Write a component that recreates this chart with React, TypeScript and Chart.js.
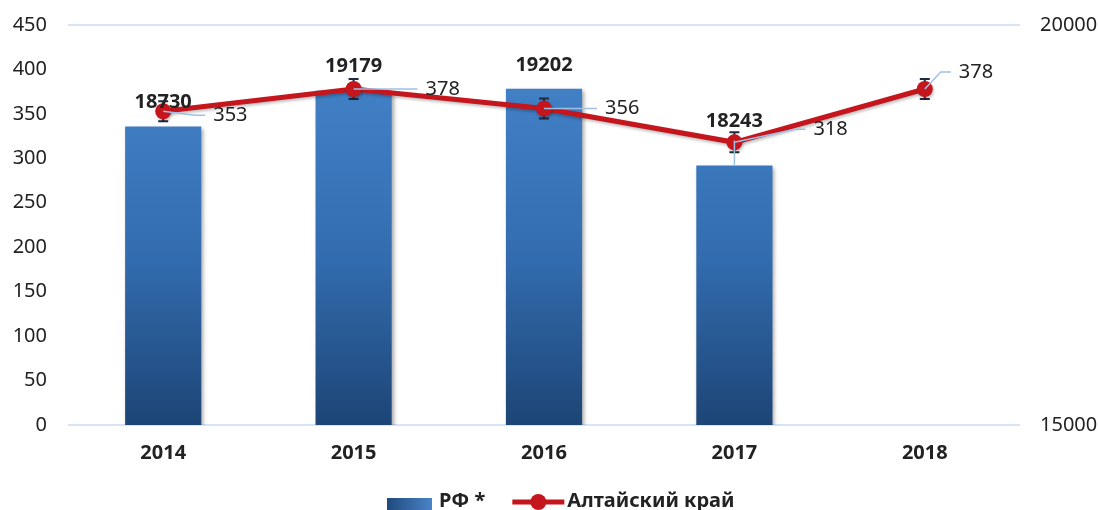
import React, { useEffect, useRef } from 'react';
import { Chart, registerables } from 'chart.js';

Chart.register(...registerables);

const categories = ['2014', '2015', '2016', '2017', '2018'];
const rfValues: (number | null)[] = [18730, 19179, 19202, 18243, null];
const altaiValues = [353, 378, 356, 318, 378];
const seriesNames = ['РФ *', 'Алтайский край'];
const leftAxis = { min: 0, max: 450, step: 50 };
const rightAxis = { min: 15000, max: 20000, step: 5000 };

// label placement (style config)
const lineLabelOffsets: [number, number][] = [[50, 4], [72, 0], [61, 0], [79, -13], [34, -17]];
const barLabelLift = [24, 24, 24, 44, 0];

const FONT = '"Noto Sans", "DejaVu Sans", sans-serif';
const RED = '#c4161c';
const LEADER = '#9ec0e6';
const TEXT = '#222222';

const decorPlugin = {
  id: 'decor',
  beforeDatasetDraw(chart: any, args: any) {
    const ctx = chart.ctx;
    ctx.save();
    if (args.meta.type === 'line') {
      ctx.strokeStyle = '#1d2b40';
      ctx.lineWidth = 2;
      args.meta.data.forEach((p: any) => {
        ctx.beginPath();
        ctx.moveTo(p.x, p.y - 10);
        ctx.lineTo(p.x, p.y + 10);
        ctx.moveTo(p.x - 5, p.y - 10);
        ctx.lineTo(p.x + 5, p.y - 10);
        ctx.moveTo(p.x - 5, p.y + 10);
        ctx.lineTo(p.x + 5, p.y + 10);
        ctx.stroke();
      });
      ctx.shadowColor = 'rgba(0,0,0,0.25)';
      ctx.shadowBlur = 3;
      ctx.shadowOffsetX = 1;
      ctx.shadowOffsetY = 2;
    } else {
      ctx.shadowColor = 'rgba(0,0,0,0.35)';
      ctx.shadowBlur = 4;
      ctx.shadowOffsetX = 2;
      ctx.shadowOffsetY = 2;
    }
  },
  afterDatasetDraw(chart: any) {
    chart.ctx.restore();
  },
  afterDatasetsDraw(chart: any) {
    const ctx = chart.ctx;
    const barMeta = chart.getDatasetMeta(1);
    const lineMeta = chart.getDatasetMeta(0);
    ctx.save();
    ctx.font = `bold 20px ${FONT}`;
    ctx.fillStyle = TEXT;
    ctx.textAlign = 'center';
    ctx.textBaseline = 'middle';
    barMeta.data.forEach((b: any, i: number) => {
      const v = rfValues[i];
      if (v == null) return;
      const lift = barLabelLift[i];
      if (lift > 30) {
        ctx.strokeStyle = LEADER;
        ctx.lineWidth = 1.5;
        ctx.beginPath();
        ctx.moveTo(b.x, b.y);
        ctx.lineTo(b.x, b.y - 25);
        ctx.stroke();
      }
      ctx.fillText(String(v), b.x, b.y - lift);
    });
    ctx.font = `20px ${FONT}`;
    ctx.textAlign = 'left';
    lineMeta.data.forEach((p: any, i: number) => {
      const [dx, dy] = lineLabelOffsets[i];
      const lx = p.x + dx;
      const ly = p.y + dy;
      ctx.strokeStyle = LEADER;
      ctx.lineWidth = 1.5;
      ctx.beginPath();
      ctx.moveTo(p.x, p.y);
      ctx.lineTo(lx - 18, ly);
      ctx.lineTo(lx - 8, ly);
      ctx.stroke();
      ctx.fillStyle = TEXT;
      ctx.fillText(String(altaiValues[i]), lx, ly);
    });
    ctx.restore();
  },
  afterDraw(chart: any) {
    const ctx = chart.ctx;
    ctx.save();
    const y = 501;
    let x = 387;
    const g = ctx.createLinearGradient(x, 0, x + 45, 0);
    g.addColorStop(0, '#1f4a7c');
    g.addColorStop(1, '#4a84c8');
    ctx.fillStyle = g;
    ctx.fillRect(x, 498, 45, 14);
    x += 52;
    ctx.font = `bold 20px ${FONT}`;
    ctx.fillStyle = TEXT;
    ctx.textAlign = 'left';
    ctx.textBaseline = 'middle';
    ctx.fillText(seriesNames[0], x, y);
    x += ctx.measureText(seriesNames[0]).width + 27;
    ctx.strokeStyle = RED;
    ctx.lineWidth = 5;
    ctx.beginPath();
    ctx.moveTo(x, 502);
    ctx.lineTo(x + 52, 502);
    ctx.stroke();
    ctx.fillStyle = RED;
    ctx.beginPath();
    ctx.arc(x + 26, 502, 8, 0, Math.PI * 2);
    ctx.fill();
    x += 55;
    ctx.fillStyle = TEXT;
    ctx.fillText(seriesNames[1], x, y);
    ctx.restore();
  },
};

export default function App() {
  const ref = useRef<HTMLCanvasElement | null>(null);
  useEffect(() => {
    document.body.style.margin = '0';
    const canvas = ref.current;
    if (!canvas) return;
    const chart = new Chart(canvas, {
      type: 'bar',
      data: {
        labels: categories,
        datasets: [
          {
            type: 'line',
            label: seriesNames[1],
            data: altaiValues,
            yAxisID: 'y',
            borderColor: RED,
            backgroundColor: RED,
            borderWidth: 5,
            pointRadius: 8,
            pointBorderWidth: 0,
            pointBackgroundColor: RED,
            tension: 0,
            order: 1,
          } as any,
          {
            type: 'bar',
            label: seriesNames[0],
            data: rfValues,
            yAxisID: 'y1',
            categoryPercentage: 0.5,
            barPercentage: 0.8,
            order: 2,
            backgroundColor: (c: any) => {
              const { chart: ch } = c;
              const area = ch.chartArea;
              if (!area) return '#3570b2';
              const grad = ch.ctx.createLinearGradient(0, area.top + 60, 0, area.bottom);
              grad.addColorStop(0, '#4280c6');
              grad.addColorStop(0.5, '#336db0');
              grad.addColorStop(1, '#1d4576');
              return grad;
            },
          } as any,
        ],
      },
      options: {
        responsive: false,
        maintainAspectRatio: false,
        devicePixelRatio: 1,
        animation: false,
        layout: { padding: { top: 25, left: 0, right: 0, bottom: 0 } },
        plugins: {
          legend: { display: false },
          tooltip: { enabled: false },
        },
        scales: {
          x: {
            grid: { display: false },
            border: { display: false },
            ticks: { font: { family: FONT, size: 20, weight: 'bold' }, color: TEXT, padding: 8 },
            afterFit: (s: any) => { s.height = 85; },
          },
          y: {
            position: 'left',
            min: leftAxis.min,
            max: leftAxis.max,
            ticks: {
              stepSize: leftAxis.step,
              font: { family: FONT, size: 20 },
              color: TEXT,
              padding: 3,
              callback: (v: any) => String(v),
            },
            grid: {
              drawTicks: true,
              tickLength: 18,
              tickColor: 'rgba(0,0,0,0)',
              lineWidth: 2,
              color: (c: any) =>
                c.tick && (c.tick.value === leftAxis.min || c.tick.value === leftAxis.max)
                  ? '#d6e4f4'
                  : 'rgba(0,0,0,0)',
            },
            border: { display: false },
            afterFit: (s: any) => { s.width = 68; },
          },
          y1: {
            position: 'right',
            min: rightAxis.min,
            max: rightAxis.max,
            ticks: {
              stepSize: rightAxis.step,
              font: { family: FONT, size: 20 },
              color: TEXT,
              padding: 3,
              callback: (v: any) => String(v),
            },
            grid: {
              display: true,
              drawOnChartArea: false,
              drawTicks: true,
              tickLength: 17,
              tickColor: 'rgba(0,0,0,0)',
            },
            border: { display: false },
            afterFit: (s: any) => { s.width = 110; },
          },
        },
      } as any,
      plugins: [decorPlugin],
    });
    return () => chart.destroy();
  }, []);
  return (
    <div style={{ width: 1098, height: 510, overflow: 'hidden' }}>
      <canvas ref={ref} width={1130} height={510} style={{ display: 'block' }} />
    </div>
  );
}
